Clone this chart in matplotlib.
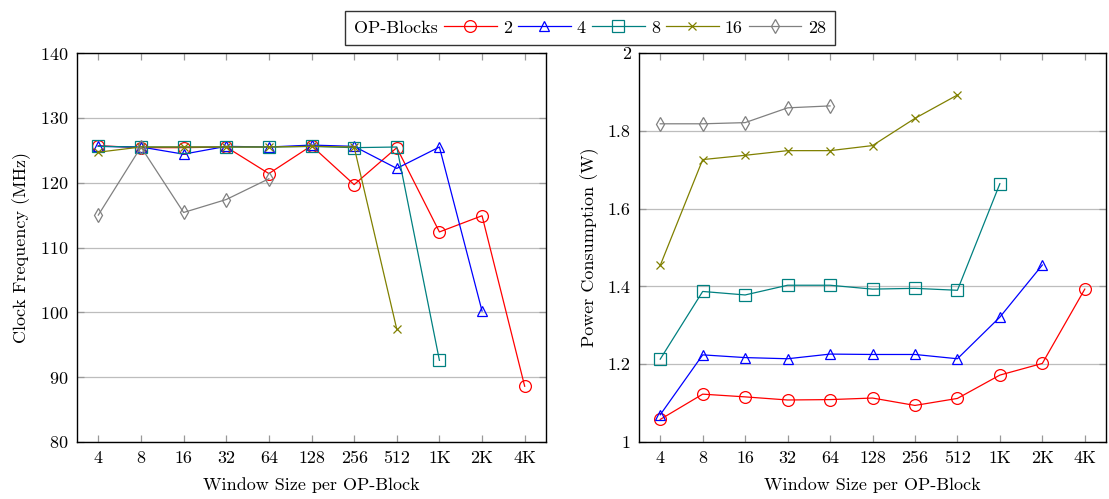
import numpy as np
import matplotlib; matplotlib.use("Agg")
import matplotlib.pyplot as plt
from matplotlib.lines import Line2D

plt.rcParams["font.family"] = ["cmr10", "DejaVu Serif"]
plt.rcParams["axes.formatter.use_mathtext"] = True
plt.rcParams["font.size"] = 13

windows = ["4", "8", "16", "32", "64", "128", "256", "512", "1K", "2K", "4K"]
blocks = ["2", "4", "8", "16", "28"]

# clock frequency (MHz), per OP-Block count, over window sizes
freq_2 = [125.7, 125.4, 125.4, 125.5, 121.4, 125.7, 119.7, 125.4, 112.4, 114.9, 88.6]
freq_4 = [125.6, 125.5, 124.4, 125.6, 125.5, 125.8, 125.6, 122.2, 125.5, 100.2]
freq_8 = [125.6, 125.5, 125.5, 125.5, 125.5, 125.6, 125.4, 125.5, 92.6]
freq_16 = [124.7, 125.5, 125.5, 125.5, 125.5, 125.6, 125.5, 97.4]
freq_28 = [115.0, 125.5, 115.4, 117.4, 120.6]

# power consumption (W)
pow_2 = [1.058, 1.123, 1.116, 1.108, 1.109, 1.113, 1.094, 1.112, 1.172, 1.202, 1.393]
pow_4 = [1.07, 1.224, 1.217, 1.214, 1.226, 1.225, 1.225, 1.214, 1.321, 1.455]
pow_8 = [1.213, 1.387, 1.378, 1.403, 1.403, 1.393, 1.395, 1.390, 1.664]
pow_16 = [1.454, 1.726, 1.737, 1.749, 1.749, 1.762, 1.832, 1.892]
pow_28 = [1.818, 1.818, 1.821, 1.859, 1.864]

freqs = [freq_2, freq_4, freq_8, freq_16, freq_28]
powers = [pow_2, pow_4, pow_8, pow_16, pow_28]

colors = ["#ff0000", "#0000ff", "#008080", "#808000", "#808080"]
markers = ["o", "^", "s", "x", "d"]
msizes = [8.5, 7.5, 8, 6, 7.5]

fig = plt.figure(figsize=(11.09, 4.99), dpi=100)
ax1 = fig.add_axes([77 / 1109, 1 - 442 / 499, 469 / 1109, 389 / 499])
ax2 = fig.add_axes([639 / 1109, 1 - 442 / 499, 467 / 1109, 389 / 499])

def style(ax):
    ax.set_xlim(-0.5, len(windows) - 0.5)
    ax.set_xticks(range(len(windows)))
    ax.set_xticklabels(windows)
    ax.grid(True, axis="y", color="#bdbdbd", lw=0.9)
    ax.set_axisbelow(True)
    ax.tick_params(direction="in", top=True, right=True, color="#999999",
                   length=5, width=0.9, labelsize=13, pad=6)
    for s in ax.spines.values():
        s.set_linewidth(1.0)
        s.set_color("black")
    ax.set_xlabel("Window Size per OP-Block", labelpad=8)

handles = []
for vals, c, m, ms, lab in zip(freqs, colors, markers, msizes, blocks):
    h, = ax1.plot(range(len(vals)), vals, color=c, marker=m, ms=ms, mfc="none",
                  mec=c, mew=0.9, lw=0.9, label=lab)
    handles.append(h)
for vals, c, m, ms in zip(powers, colors, markers, msizes):
    ax2.plot(range(len(vals)), vals, color=c, marker=m, ms=ms, mfc="none",
             mec=c, mew=0.9, lw=0.9)

style(ax1)
ax1.set_ylim(80, 140)
ax1.set_yticks(range(80, 141, 10))
ax1.set_ylabel("Clock Frequency (MHz)", labelpad=7)

style(ax2)
ax2.set_ylim(1, 2)
ax2.set_yticks([1, 1.2, 1.4, 1.6, 1.8, 2])
ax2.set_yticklabels(["1", "1.2", "1.4", "1.6", "1.8", "2"])
ax2.set_ylabel("Power Consumption (W)", labelpad=6)

blank = Line2D([], [], color="none")
leg = fig.legend([blank] + handles, ["OP-Blocks"] + blocks, ncol=6,
                 loc="upper center", bbox_to_anchor=(590 / 1109, 1 - 2 / 499),
                 fancybox=False, edgecolor="#333333", framealpha=1,
                 handlelength=2.9, handletextpad=0.35, columnspacing=0.35,
                 borderpad=0.5, fontsize=13)
leg.get_frame().set_linewidth(1.0)
# drop the empty handle slot in front of "OP-Blocks"
first = leg._legend_handle_box.get_children()[0].get_children()[0]
first._children = [first.get_children()[1]]

fig.savefig("out.png", dpi=100)
